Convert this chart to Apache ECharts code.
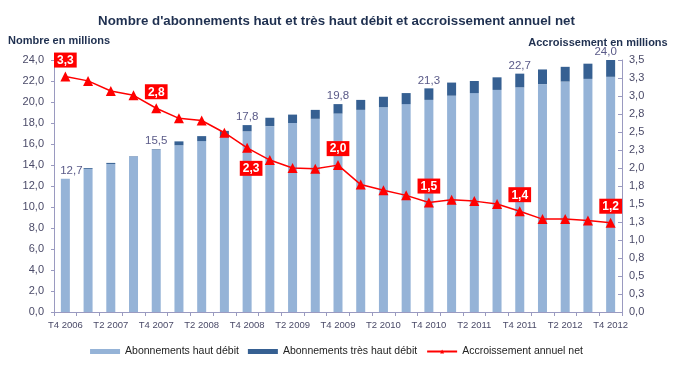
<!DOCTYPE html>
<html><head><meta charset="utf-8">
<script src="https://cdn.jsdelivr.net/npm/echarts@6/dist/echarts.min.js"></script>
<style>html,body{margin:0;padding:0;background:#fff}#c{width:673px;height:369px}</style>
</head><body><div id="c"></div>
<script>
const categories = ['T4 2006','T1 2007','T2 2007','T3 2007','T4 2007','T1 2008','T2 2008','T3 2008','T4 2008','T1 2009','T2 2009','T3 2009','T4 2009','T1 2010','T2 2010','T3 2010','T4 2010','T1 2011','T2 2011','T3 2011','T4 2011','T1 2012','T2 2012','T3 2012','T4 2012'];
const hautDebit = [12.7,13.62,14.1,14.82,15.45,15.88,16.28,16.65,17.2,17.7,18.0,18.4,18.9,19.25,19.5,19.8,20.2,20.6,20.85,21.15,21.4,21.7,21.95,22.2,22.4];
const tresHautDebit = [0,0.08,0.1,0.03,0.05,0.37,0.47,0.6,0.6,0.8,0.8,0.85,0.9,0.95,1.0,1.05,1.1,1.25,1.15,1.2,1.3,1.4,1.4,1.45,1.6];
const totalLabels = ['12,7',null,null,null,'15,5',null,null,null,'17,8',null,null,null,'19,8',null,null,null,'21,3',null,null,null,'22,7',null,null,null,'24,0'];
const accroissement = [3.27,3.21,3.07,3.01,2.83,2.69,2.66,2.49,2.28,2.11,2.0,1.99,2.04,1.77,1.69,1.62,1.52,1.56,1.54,1.5,1.4,1.29,1.29,1.27,1.24];
const accroissementLabels = ['3,3',null,null,null,'2,8',null,null,null,'2,3',null,null,null,'2,0',null,null,null,'1,5',null,null,null,'1,4',null,null,null,'1,2'];
const leftTicks = ['0,0','2,0','4,0','6,0','8,0','10,0','12,0','14,0','16,0','18,0','20,0','22,0','24,0'];
const rightTicks = ['0,0','0,3','0,5','0,8','1,0','1,3','1,5','1,8','2,0','2,3','2,5','2,8','3,0','3,3','3,5'];

const FONT = '"Liberation Sans",Arial,sans-serif';
const axisColor = '#9a9ac0';
const labelColor = '#4a4a68';

const barLabelOffset = {0: [6, 0], 24: [-5, 0]};
const darkData = tresHautDebit.map((v, i) => {
  if (!totalLabels[i]) return v;
  return {value: v, label: {show: true, formatter: totalLabels[i], offset: barLabelOffset[i] || [0, 0]}};
});
const lineData = accroissement.map((v, i) => {
  if (!accroissementLabels[i]) return v;
  const lab = {show: true, formatter: accroissementLabels[i]};
  if (i === 8) { lab.position = 'bottom'; lab.distance = 8; lab.offset = [4, 0]; }
  return {value: v, label: lab};
});

const chart = echarts.init(document.getElementById('c'));
chart.setOption({
  animation: false,
  textStyle: {fontFamily: FONT},
  title: {
    text: "Nombre d'abonnements haut et très haut débit et accroissement annuel net",
    left: 'center', top: 10,
    textStyle: {fontFamily: FONT, fontSize: 13.3, fontWeight: 'bold', color: '#1f3050'}
  },
  grid: {left: 54, right: 51, top: 60, bottom: 57},
  legend: {
    top: 341, left: 'center', itemGap: 9, itemWidth: 30, itemHeight: 5,
    textStyle: {fontFamily: FONT, fontSize: 10.5, color: '#222'},
    data: [
      {name: 'Abonnements haut débit', icon: 'rect'},
      {name: 'Abonnements très haut débit', icon: 'rect'},
      {name: 'Accroissement annuel net'}
    ]
  },
  xAxis: {
    type: 'category', data: categories,
    axisLine: {lineStyle: {color: axisColor}},
    axisTick: {show: true, interval: 0, length: 4, lineStyle: {color: axisColor}},
    axisLabel: {interval: 1, color: labelColor, fontSize: 9.5, fontFamily: FONT, margin: 8}
  },
  yAxis: [
    {
      type: 'value', min: 0, max: 24, interval: 2,
      name: 'Nombre en millions', nameLocation: 'end', nameGap: 14,
      nameTextStyle: {fontFamily: FONT, fontWeight: 'bold', fontSize: 11, color: '#1f3050', align: 'center', padding: [0,0,0,10]},
      axisLine: {show: true, lineStyle: {color: axisColor}},
      axisTick: {show: true, length: 3, lineStyle: {color: axisColor}},
      splitLine: {show: false},
      axisLabel: {color: labelColor, fontSize: 11, fontFamily: FONT, margin: 10,
        formatter: v => leftTicks[Math.round(v / 2)]}
    },
    {
      type: 'value', min: 0, max: 3.5, interval: 0.25, position: 'right',
      name: 'Accroissement en millions', nameLocation: 'end', nameGap: 12,
      nameTextStyle: {fontFamily: FONT, fontWeight: 'bold', fontSize: 11, color: '#1f3050', align: 'center', padding: [0,0,0,-48]},
      axisLine: {show: true, lineStyle: {color: axisColor}},
      axisTick: {show: true, inside: true, length: 4, lineStyle: {color: axisColor}},
      splitLine: {show: false},
      axisLabel: {color: labelColor, fontSize: 11, fontFamily: FONT, margin: 7,
        formatter: v => rightTicks[Math.round(v / 0.25)]}
    }
  ],
  series: [
    {
      name: 'Abonnements haut débit', type: 'bar', stack: 'ab', barWidth: 9,
      itemStyle: {color: '#95b3d7'}, data: hautDebit
    },
    {
      name: 'Abonnements très haut débit', type: 'bar', stack: 'ab', barWidth: 9,
      itemStyle: {color: '#366092'}, data: darkData,
      label: {show: false, position: 'top', distance: 2, color: '#5a5a88', fontSize: 11.5, fontFamily: FONT}
    },
    {
      name: 'Accroissement annuel net', type: 'line', yAxisIndex: 1, data: lineData,
      symbol: 'triangle', symbolSize: 10,
      lineStyle: {color: '#ff0000', width: 1.5}, itemStyle: {color: '#ff0000'},
      label: {show: false, position: 'top', distance: 4,
        backgroundColor: '#ff0000', color: '#fff', fontWeight: 'bold', fontSize: 12, fontFamily: FONT,
        padding: [2,3,1,3]}
    }
  ]
});
</script></body></html>
